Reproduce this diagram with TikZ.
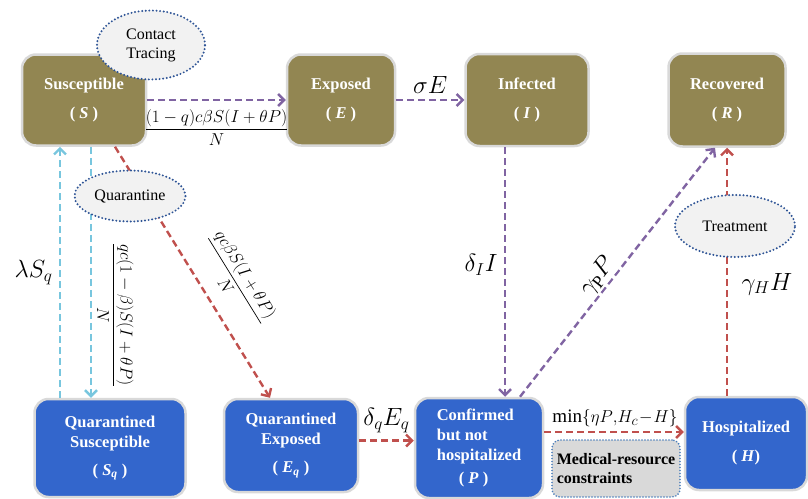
\documentclass[tikz,border=0pt]{standalone}
\usepackage{amsmath}
\usepackage{fontspec}
\setmainfont{Liberation Serif}
\usetikzlibrary{arrows.meta,shapes.geometric}
\definecolor{olivebox}{RGB}{146,134,82}
\definecolor{bluebox}{RGB}{51,102,204}
\definecolor{flowpurple}{RGB}{128,100,162}
\definecolor{flowred}{RGB}{192,80,77}
\definecolor{flowcyan}{RGB}{120,198,222}
\definecolor{ovalline}{RGB}{46,84,150}
\definecolor{ovalfill}{RGB}{242,242,242}
\definecolor{noteline}{RGB}{74,126,187}
\tikzset{compartment/.style={rounded corners=14pt,draw=black!15,line width=2.5pt,text=white,
 font=\fontsize{16.5}{20}\selectfont\bfseries,align=center,inner sep=0pt},
 oldbox/.style={compartment,fill=olivebox},
 qbox/.style={compartment,fill=bluebox},
 flow/.style={line width=2.4pt,dash pattern=on 7pt off 4pt,-{Straight Barb[length=6pt,width=12pt]}},
 measure/.style={ellipse,draw=ovalline,fill=ovalfill,line width=2.2pt,dash pattern=on 0pt off 3.6pt,
 line cap=round,font=\fontsize{16}{19}\selectfont,align=center,inner sep=0pt},
 rate/.style={font=\fontsize{25}{29}\selectfont,text=black},
 ratefrac/.style={font=\fontsize{19}{23}\selectfont,inner sep=2pt,text=black}}

\begin{document}
\begin{tikzpicture}[x=1pt,y=-1pt]
\useasboundingbox (0,0) rectangle (808,498);
% compartments
\node[oldbox,minimum width=124pt,minimum height=91pt] (S) at (84,100) {Susceptible\\[9pt]( \textit{S} )};
\node[oldbox,minimum width=108pt,minimum height=91pt] (E) at (341,100) {Exposed\\[9pt]( \textit{E} )};
\node[oldbox,minimum width=123pt,minimum height=92pt] (I) at (527,100) {Infected\\[9pt]( \textit{I} )};
\node[oldbox,minimum width=117pt,minimum height=93pt] (R) at (727,100) {Recovered\\[9pt]( \textit{R} )};
\node[qbox,minimum width=151pt,minimum height=98pt] (Sq) at (110,448) {Quarantined\\Susceptible\\[8pt]( \textit{S}\textsubscript{\textit{q}} )};
\node[qbox,minimum width=134pt,minimum height=93pt] (Eq) at (291,445.5) {Quarantined\\Exposed\\[8pt]( \textit{E}\textsubscript{\textit{q}} )};
\node[qbox,minimum width=128pt,minimum height=100pt,align=left] (P) at (479,448) {Confirmed\\but not\\hospitalized\\[3pt]\hspace*{22pt}( \textit{P} )};
\node[qbox,minimum width=122pt,minimum height=93pt] (H) at (746,443.5) {Hospitalized\\[9pt]( \textit{H})};
% flows
\draw[flow,flowpurple] (S) -- (E) node[midway,below=6pt,ratefrac] {$\dfrac{(1-q)c\beta S(I+\theta P)}{N}$};
\draw[flow,flowpurple] (E) -- (I) node[midway,above=2pt,rate] {$\sigma E$};
\draw[flow,flowpurple] ([xshift=-22pt]I.south) -- ([xshift=-22pt]I.south |- P.north) node[pos=0.47,left=3pt,rate] {$\delta_I I$};
\draw[flow,flowpurple] ([xshift=41pt]P.north) -- ([xshift=-12pt]R.south) node[pos=0.45,sloped,above=0pt,fill=white,inner sep=1pt,rate] {$\gamma_{\mathrm{P}}P$};
\draw[flow,flowred] (H.north -| R.south) -- (R.south) node[pos=0.45,right=10pt,rate] {$\gamma_H H$};
\draw[flow,flowred] ([yshift=16pt]P.east) -- ([yshift=16pt]P.east -| H.west) node[midway,above=2pt,xshift=1pt,ratefrac] {$\min\{\eta P{,}H_c\!-\!H\}$};
\draw[flow,flowred] ([yshift=5pt]Eq.east) -- ([yshift=5pt]Eq.east -| P.west) node[midway,above=3pt,rate] {$\delta_q E_q$};
\draw[flow,flowred] ([xshift=31pt]S.south) -- ([xshift=-21pt]Eq.north) node[pos=0.6,sloped,above=12pt,ratefrac] {$\dfrac{qc\beta S(I+\theta P)}{N}$};
\draw[flow,flowcyan] ([xshift=7pt]S.south) -- ([xshift=7pt]S.south |- Sq.north) node[pos=0.67,sloped,above=3pt,ratefrac] {$\dfrac{qc(1-\beta)S(I+\theta P)}{N}$};
\draw[flow,flowcyan] ([xshift=-24pt]S.south |- Sq.north) -- ([xshift=-24pt]S.south) node[pos=0.5,left=3pt,rate,font=\fontsize{27}{31}\selectfont] {$\lambda S_q$};
% interventions
\node[measure,minimum width=108pt,minimum height=69pt] (CT) at (151,45) {Contact\\Tracing};
\node[measure,minimum width=111pt,minimum height=51pt] (QT) at (130,196) {Quarantine};
\node[measure,minimum width=120pt,minimum height=62pt] (TR) at (735,226) {Treatment};
\node[rounded corners=8pt,fill=black!15,draw=noteline,line width=1.8pt,dash pattern=on 0pt off 3pt,line cap=round,
 minimum width=128pt,minimum height=57pt,align=left,inner sep=2pt,font=\fontsize{16}{19}\selectfont\bfseries] (MR) at (616,468.5) {Medical-resource\\constraints};
\end{tikzpicture}
\end{document}
